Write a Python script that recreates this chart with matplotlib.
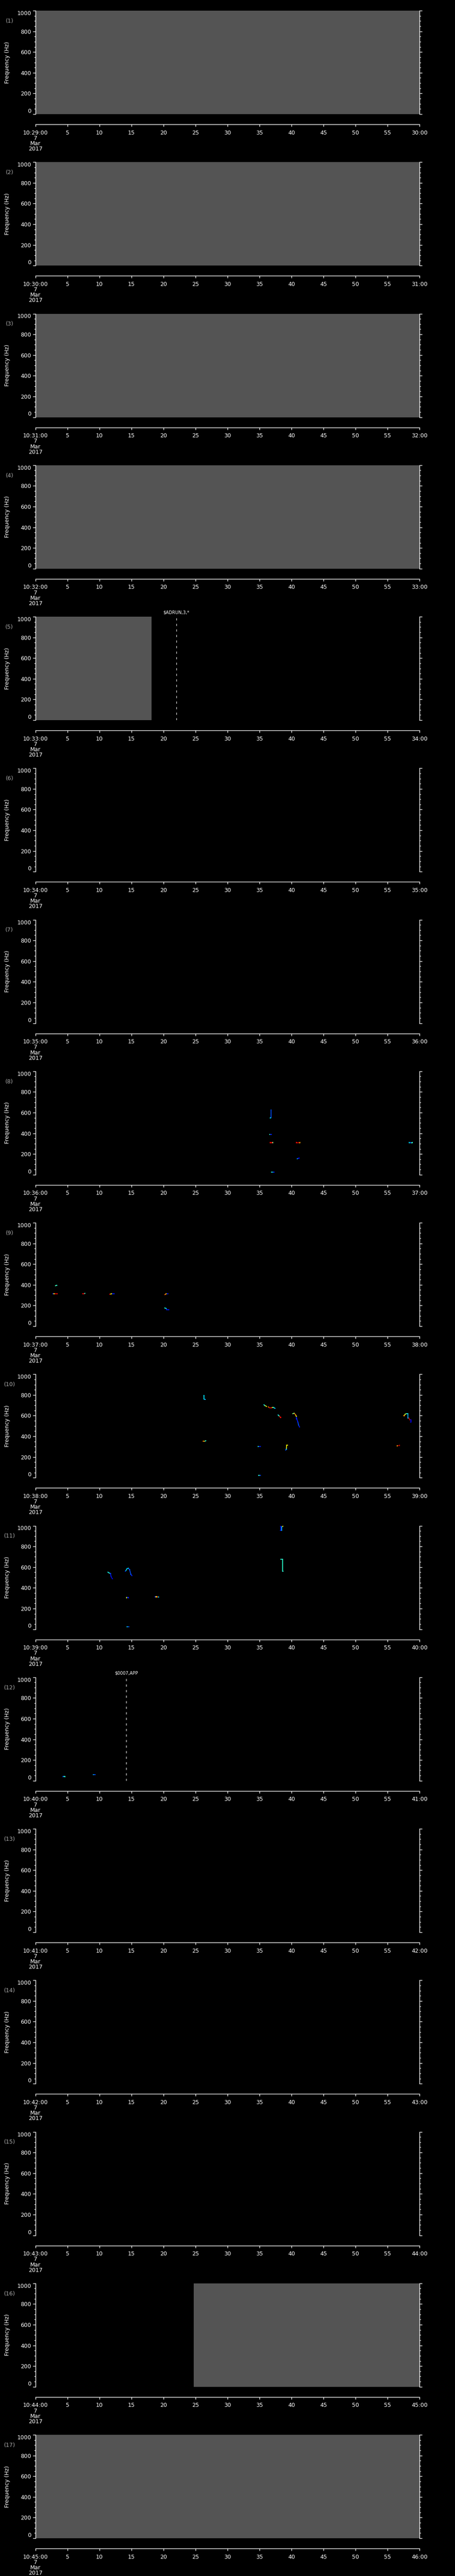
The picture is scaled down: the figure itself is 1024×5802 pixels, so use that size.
import numpy as np
import matplotlib
import matplotlib.pyplot as plt
from matplotlib.collections import LineCollection
from matplotlib.ticker import FixedLocator, MultipleLocator

plt.rcParams["font.family"] = ["DejaVu Sans"]
plt.rcParams["lines.scale_dashes"] = False

# start minute (10:MM:00) of each one-minute panel
start_minutes = list(range(29, 46))

# gray (no data) spans per panel, in seconds
gray_spans = {1: (0, 60), 2: (0, 60), 3: (0, 60), 4: (0, 60),
              5: (0, 18.1), 16: (24.7, 60), 17: (0, 60)}

# dashed event markers: panel -> (second, text)
event_marks = {5: (22.0, "$ADRUN,3,*"), 12: (14.2, "$0007,APP")}

# spectrogram traces: (second, frequency Hz, colour level 0..1 on jet)
p8_traces = [
    [(36.8, 627, 0.2), (36.8, 552, 0.2), (36.7, 550, 0.35)],
    [(36.6, 391, 0.4), (36.9, 391, 0.15)],
    [(36.7, 310, 0.9), (36.95, 310, 0.9), (37.1, 310, 0.5)],
    [(40.8, 310, 0.9), (41.1, 310, 0.95), (41.3, 310, 0.75)],
    [(40.9, 155, 0.3), (41.05, 157, 0.15), (41.2, 160, 0.1)],
    [(36.9, 24, 0.4), (37.1, 24, 0.3), (37.3, 24, 0.15)],
    [(58.4, 310, 0.35), (58.6, 310, 0.2), (58.9, 310, 0.4)],
]
p9_traces = [
    [(3.1, 392, 0.45), (3.3, 396, 0.4)],
    [(2.7, 312, 0.15), (2.9, 312, 0.65), (3.05, 312, 0.9), (3.4, 312, 0.9)],
    [(7.4, 312, 0.9), (7.55, 312, 0.9), (7.7, 316, 0.4)],
    [(11.6, 310, 0.9), (11.9, 312, 0.65), (12.0, 312, 0.15), (12.3, 312, 0.15)],
    [(20.2, 305, 0.85), (20.4, 312, 0.7), (20.7, 312, 0.15)],
    [(20.2, 175, 0.4), (20.4, 172, 0.35), (20.5, 160, 0.15), (20.8, 160, 0.15)],
]
p10_traces = [
    [(26.3, 793, 0.35), (26.3, 760, 0.35), (26.5, 755, 0.3)],
    [(26.2, 352, 0.8), (26.4, 352, 0.7), (26.6, 356, 0.4)],
    [(35.7, 706, 0.35), (35.85, 697, 0.45), (36.1, 689, 0.65)],
    [(36.4, 683, 0.75), (36.6, 676, 0.9), (36.9, 676, 0.9), (37.0, 680, 0.6),
     (37.2, 680, 0.4), (37.4, 670, 0.3)],
    [(37.9, 607, 0.35), (38.05, 597, 0.45), (38.3, 583, 0.9)],
    [(40.2, 618, 0.5), (40.4, 623, 0.55), (40.6, 612, 0.8), (40.75, 593, 0.65),
     (40.8, 570, 0.15), (41.0, 540, 0.15), (41.1, 510, 0.2), (41.25, 490, 0.15)],
    [(34.8, 303, 0.4), (35.1, 303, 0.15)],
    [(39.1, 267, 0.2), (39.2, 275, 0.3), (39.25, 314, 0.65), (39.35, 314, 0.65)],
    [(34.9, 21, 0.4), (35.1, 21, 0.2)],
    [(56.5, 308, 0.75), (56.85, 312, 0.95)],
    [(57.6, 600, 0.75), (57.8, 615, 0.6), (58.0, 620, 0.45), (58.2, 620, 0.35),
     (58.2, 577, 0.3), (58.35, 575, 0.9), (58.5, 560, 0.95), (58.65, 560, 0.1),
     (58.65, 538, 0.1)],
]
p11_traces = [
    [(11.3, 550, 0.35), (11.5, 544, 0.4), (11.7, 540, 0.2), (11.8, 510, 0.15),
     (12.0, 487, 0.1)],
    [(14.05, 560, 0.15), (14.3, 585, 0.35), (14.5, 589, 0.3), (14.7, 575, 0.2),
     (14.9, 530, 0.2), (15.05, 516, 0.15)],
    [(14.25, 305, 0.6), (14.5, 305, 0.15)],
    [(18.7, 313, 0.15), (18.85, 313, 0.65), (19.0, 313, 0.9), (19.2, 310, 0.35)],
    [(14.3, 22, 0.35), (14.6, 22, 0.2)],
    [(38.3, 997, 0.1), (38.3, 956, 0.15)],
    [(38.5, 956, 0.3), (38.5, 990, 0.3), (38.7, 997, 0.65)],
    [(38.35, 675, 0.4), (38.6, 675, 0.4), (38.6, 559, 0.4), (38.65, 559, 0.4)],
]
p12_traces = [
    [(4.3, 40, 0.2), (4.6, 40, 0.4)],
    [(9.0, 60, 0.3), (9.3, 60, 0.2)],
]
traces = {8: p8_traces, 9: p9_traces, 10: p10_traces, 11: p11_traces,
          12: p12_traces}

FIG_W, FIG_H = 1024, 5802
AX_L, AX_W, AX_H = 80, 864, 233
TOP0, PITCH = 24, 341.25
PX = 0.72  # points per pixel at dpi 100
GRAY = "#545454"

cmap = matplotlib.colormaps["jet"]

fig = plt.figure(figsize=(FIG_W / 100, FIG_H / 100), dpi=100, facecolor="black")

for i, mm in enumerate(start_minutes):
    n = i + 1
    top = TOP0 + i * PITCH
    ax = fig.add_axes([AX_L / FIG_W, 1 - (top + AX_H) / FIG_H,
                       AX_W / FIG_W, AX_H / FIG_H])
    ax.set_facecolor("black")
    ax.set_xlim(0, 60)
    ax.set_ylim(0, 1000)

    if n in gray_spans:
        t0, t1 = gray_spans[n]
        ax.axvspan(t0, t1, color=GRAY, lw=0)

    for tr in traces.get(n, []):
        t = np.array([p[0] for p in tr])
        f = np.array([p[1] for p in tr])
        c = np.array([p[2] for p in tr])
        segs = [[(t[k], f[k]), (t[k + 1], f[k + 1])] for k in range(len(t) - 1)]
        ax.add_collection(LineCollection(segs, colors=cmap(c[1:]), linewidths=1.3))
        ax.scatter(t, f, c=cmap(c), marker="s", s=2.5, linewidths=0, zorder=3)

    if n in event_marks:
        te, txt = event_marks[n]
        ax.plot([te, te], [0, 990], color="white", lw=0.8, ls=(0, (3.6, 5.4)))
        ax.annotate(txt, (te, 1000), xytext=(0, 3), textcoords="offset points",
                    ha="center", va="bottom", color="white", fontsize=7)

    # spines: left/right axes, x axis detached below
    ax.spines["top"].set_visible(False)
    for s in ("left", "right", "bottom"):
        ax.spines[s].set_color("white")
        ax.spines[s].set_linewidth(1.0)
    ax.spines["bottom"].set_position(("outward", 23 * PX))

    ax.yaxis.set_major_locator(FixedLocator([0, 200, 400, 600, 800, 1000]))
    ax.yaxis.set_minor_locator(MultipleLocator(50))
    ax.tick_params(axis="y", which="both", left=True, right=True, direction="out",
                   colors="white", labelcolor="white", labelsize=9, width=1.0)
    ax.tick_params(axis="y", which="major", length=4 * PX * 1.4, pad=3)
    ax.tick_params(axis="y", which="minor", length=2.5 * PX * 1.4)
    ylabs = ax.get_yticklabels()
    ylabs[0].set_va("bottom")
    ylabs[-1].set_va("top")

    xt = list(range(0, 61, 5))
    xl = [str(v) for v in xt]
    xl[0] = "10:%02d:00\n7\nMar\n2017" % mm
    xl[-1] = "%02d:00" % (mm + 1)
    ax.set_xticks(xt)
    ax.set_xticklabels(xl, linespacing=0.92)
    ax.tick_params(axis="x", which="major", direction="out", length=5 * PX,
                   width=1.0, colors="white", labelsize=9, pad=5.5)

    ax.set_ylabel("Frequency (Hz)", color="white", fontsize=9)
    ax.yaxis.set_label_coords(-0.066, 0.5)
    ax.text(-0.068, 0.90, "(%d)" % n, transform=ax.transAxes, ha="center",
            va="center", color="#aaaaaa", fontsize=9)

fig.savefig("out.png", dpi=100, facecolor="black")
